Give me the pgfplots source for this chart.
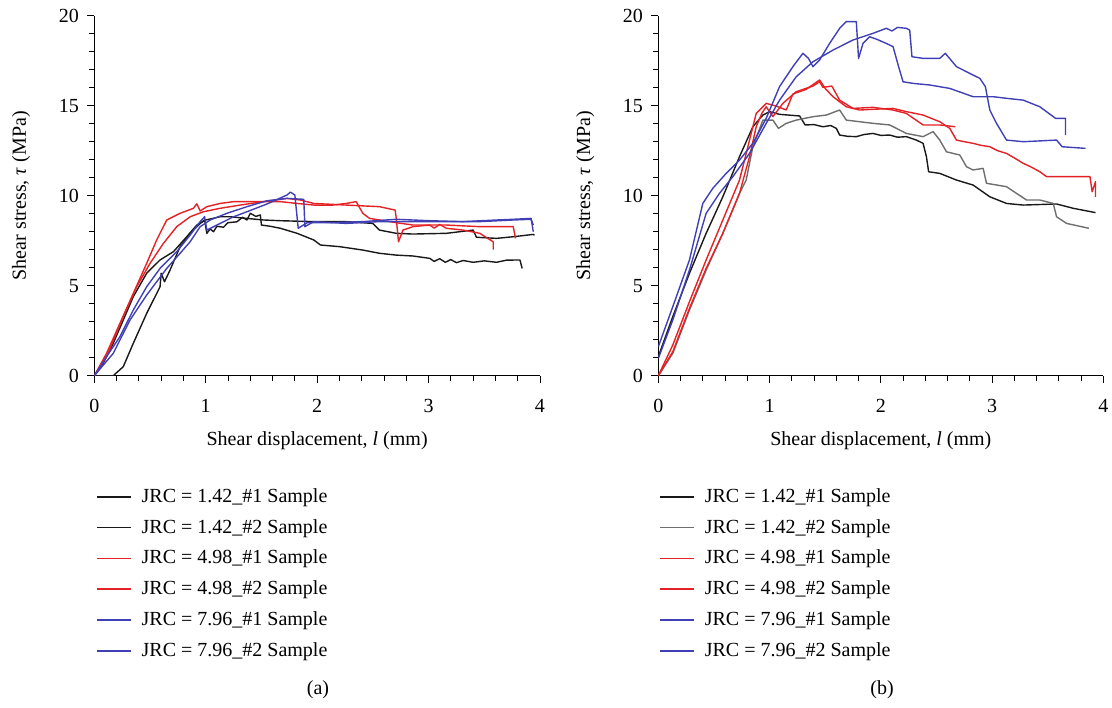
\documentclass[border=0pt]{standalone}
\usepackage{fontspec}
\setmainfont{Liberation Serif}
\usepackage{pgfplots}
\pgfplotsset{compat=1.18}
\definecolor{cblack}{RGB}{25,25,25}
\definecolor{cgray}{RGB}{110,110,110}
\definecolor{cred}{RGB}{228,34,38}
\definecolor{cblue}{RGB}{64,64,182}
\newcommand{\fs}{\fontsize{20}{24}\selectfont}
\pgfplotsset{
 panel/.style={
  scale only axis, width=445.7pt, height=360pt,
  xmin=0, xmax=4, ymin=0, ymax=20,
  axis x line*=bottom, axis y line*=left,
  axis line style={line width=0.9pt, -},
  xtick={0,1,2,3,4}, ytick={0,5,10,15,20},
  minor x tick num=4, minor y tick num=4,
  tick align=outside,
  major tick length=7pt, minor tick length=5pt,
  every tick/.style={line width=0.9pt, black},
  tick label style={font=\fs},
  xticklabel style={yshift=-13pt},
  yticklabel style={xshift=-5pt},
  /pgf/number format/assume math mode=true,
  xlabel={Shear displacement, \textit{l} (mm)},
  ylabel={Shear stress, \textit{τ} (MPa)},
  every axis x label/.style={at={([yshift=-69.3pt]axis description cs:0.5,0)}, anchor=base, font=\fs},
  every axis y label/.style={at={([xshift=-68.3pt]axis description cs:0,0.5)}, rotate=90, anchor=base, font=\fs},
  legend cell align=left,
  legend style={anchor=north west, draw=none, fill=none, inner sep=0pt, outer sep=0pt,
    column sep=10pt, row sep=11.8pt, font=\fs, nodes={inner sep=0pt, text height=14pt, text depth=5pt}},
  legend image code/.code={\draw[#1, line width=1.6pt] (0pt,1pt) -- (34pt,1pt);},
  every axis plot/.append style={line width=1.4pt, line join=round},
 }
}
\begin{document}
\begin{tikzpicture}
\path[use as bounding box] (0pt,-708pt) rectangle (1112pt,0pt);
% ---------------- (a)
\begin{axis}[panel, at={(94.3pt,-375.7pt)}, anchor=south west,
  legend style={at={(axis description cs:0.004,-0.313)}}]
\addplot[cblack] coordinates {(0,0) (0.17,0) (0.26,0.5) (0.35,1.8) (0.47,3.46) (0.59,4.94) (0.60,5.69) (0.63,5.22) (0.68,5.87) (0.77,7.17) (0.86,7.91) (0.95,8.46) (0.99,8.65) (1.01,7.91) (1.04,8.15) (1.07,8.0) (1.10,8.3) (1.16,8.25) (1.20,8.5) (1.28,8.55) (1.33,8.8) (1.37,8.65) (1.40,9.02) (1.45,8.85) (1.49,8.93) (1.50,8.37) (1.58,8.3) (1.67,8.19) (1.82,7.91) (1.97,7.54) (2.03,7.26) (2.20,7.17) (2.41,6.98) (2.56,6.80) (2.71,6.70) (2.86,6.65) (3.01,6.52) (3.05,6.35) (3.10,6.5) (3.15,6.3) (3.20,6.45) (3.25,6.28) (3.31,6.4) (3.40,6.3) (3.50,6.38) (3.61,6.3) (3.70,6.42) (3.82,6.43) (3.84,5.96)};
\addlegendentry{JRC = 1.42\_\#1 Sample}
\addplot[cblack] coordinates {(0,0) (0.08,0.69) (0.17,1.80) (0.26,3.09) (0.35,4.39) (0.47,5.69) (0.59,6.43) (0.71,6.89) (0.83,7.72) (0.92,8.37) (1.0,8.65) (1.13,8.83) (1.22,8.83) (1.35,8.75) (1.52,8.65) (1.67,8.61) (1.97,8.56) (2.26,8.56) (2.50,8.46) (2.56,8.09) (2.71,7.91) (2.86,7.87) (3.16,7.91) (3.40,8.09) (3.43,7.69) (3.61,7.63) (3.76,7.72) (3.94,7.85) (3.95,7.8)};
\addlegendentry{JRC = 1.42\_\#2 Sample}
\addplot[cred] coordinates {(0,0) (0.11,1.24) (0.23,2.91) (0.35,4.57) (0.47,6.24) (0.56,7.54) (0.65,8.65) (0.77,9.02) (0.89,9.30) (0.92,9.55) (0.95,9.15) (1.01,9.39) (1.13,9.57) (1.25,9.67) (1.43,9.67) (1.67,9.67) (1.82,9.57) (1.97,9.48) (2.14,9.48) (2.26,9.57) (2.35,9.67) (2.41,9.02) (2.47,8.74) (2.56,8.65) (2.71,8.50) (2.86,8.37) (3.16,8.37) (3.46,8.28) (3.76,8.28) (3.78,7.63)};
\addlegendentry{JRC = 4.98\_\#1 Sample}
\addplot[cred] coordinates {(0,0) (0.11,1.06) (0.26,3.28) (0.38,4.94) (0.50,6.24) (0.62,7.35) (0.74,8.28) (0.86,8.83) (0.98,9.11) (1.13,9.30) (1.31,9.48) (1.52,9.67) (1.73,9.85) (1.85,9.76) (1.97,9.57) (2.26,9.48) (2.56,9.39) (2.70,9.20) (2.71,8.74) (2.73,7.44) (2.77,8.09) (2.86,8.28) (3.01,8.37) (3.05,8.2) (3.10,8.4) (3.16,8.19) (3.31,8.09) (3.46,7.91) (3.58,7.44) (3.58,7.0)};
\addlegendentry{JRC = 4.98\_\#2 Sample}
\addplot[cblue] coordinates {(0,0) (0.11,1.06) (0.23,2.17) (0.35,3.65) (0.47,4.94) (0.59,5.96) (0.74,6.89) (0.86,7.81) (0.95,8.56) (0.99,8.83) (1.01,8.09) (1.13,8.46) (1.25,8.83) (1.37,9.11) (1.55,9.54) (1.73,10.04) (1.76,10.20) (1.80,10.04) (1.83,8.19) (1.91,8.50) (2.11,8.50) (2.41,8.56) (2.71,8.69) (3.01,8.61) (3.31,8.56) (3.61,8.65) (3.76,8.69) (3.92,8.74) (3.94,8.0)};
\addlegendentry{JRC = 7.96\_\#1 Sample}
\addplot[cblue] coordinates {(0,0) (0.17,1.24) (0.32,3.09) (0.47,4.48) (0.65,5.96) (0.77,6.80) (0.86,7.44) (0.95,8.28) (1.04,8.65) (1.19,9.02) (1.37,9.39) (1.55,9.72) (1.73,9.85) (1.88,9.80) (1.89,8.28) (1.97,8.56) (2.26,8.46) (2.56,8.56) (2.74,8.56) (3.01,8.56) (3.46,8.56) (3.76,8.65) (3.92,8.69) (3.94,8.37)};
\addlegendentry{JRC = 7.96\_\#2 Sample}
\end{axis}
% ---------------- (b)
\begin{axis}[panel, width=445pt, at={(658.3pt,-375.7pt)}, anchor=south west,
  legend style={at={(axis description cs:0.002,-0.313)}}]
\addplot[cblack] coordinates {(0,1.06) (0.13,3.28) (0.28,5.69) (0.43,7.91) (0.58,9.94) (0.73,12.17) (0.85,13.83) (0.94,14.48) (1.00,14.67) (1.09,14.52) (1.27,14.43) (1.32,13.93) (1.40,13.95) (1.48,13.83) (1.55,13.9) (1.60,13.74) (1.63,13.37) (1.70,13.3) (1.78,13.28) (1.85,13.4) (1.93,13.46) (2.00,13.35) (2.08,13.37) (2.15,13.25) (2.23,13.28) (2.32,13.09) (2.38,12.91) (2.41,12.17) (2.43,11.33) (2.53,11.24) (2.68,10.87) (2.83,10.59) (2.98,9.94) (3.13,9.57) (3.28,9.48) (3.58,9.54) (3.73,9.30) (3.93,9.06)};
\addlegendentry{JRC = 1.42\_\#1 Sample}
\addplot[cgray] coordinates {(0,0) (0.13,1.24) (0.28,3.65) (0.43,5.87) (0.58,7.91) (0.73,10.13) (0.79,10.87) (0.85,12.72) (0.94,14.20) (1.03,14.20) (1.08,13.74) (1.15,14.02) (1.24,14.20) (1.39,14.39) (1.51,14.48) (1.63,14.76) (1.69,14.20) (1.93,14.02) (2.08,13.93) (2.23,13.46) (2.38,13.28) (2.47,13.56) (2.53,13.09) (2.59,12.44) (2.71,12.26) (2.77,11.61) (2.83,11.43) (2.92,11.52) (2.95,10.69) (3.13,10.50) (3.22,10.13) (3.31,9.76) (3.43,9.76) (3.55,9.57) (3.58,8.83) (3.67,8.46) (3.87,8.19)};
\addlegendentry{JRC = 1.42\_\#2 Sample}
\addplot[cred] coordinates {(0,0) (0.13,1.70) (0.28,4.11) (0.43,6.43) (0.58,8.65) (0.73,10.87) (0.82,13.09) (0.88,14.57) (0.97,15.13) (1.06,14.98) (1.15,14.76) (1.21,15.65) (1.33,15.91) (1.45,16.43) (1.50,15.96) (1.57,15.50) (1.69,14.94) (1.81,14.76) (1.93,14.80) (2.11,14.85) (2.23,14.67) (2.38,14.48) (2.53,14.11) (2.62,13.74) (2.68,13.09) (2.75,13.0) (2.83,12.91) (2.90,12.8) (2.98,12.72) (3.05,12.5) (3.13,12.35) (3.20,12.1) (3.28,11.80) (3.35,11.6) (3.43,11.33) (3.49,11.06) (3.88,11.06) (3.90,10.22) (3.93,10.78) (3.93,9.94)};
\addlegendentry{JRC = 4.98\_\#1 Sample}
\addplot[cred] coordinates {(0,0) (0.13,1.33) (0.28,3.74) (0.43,5.96) (0.58,7.91) (0.73,10.13) (0.82,12.17) (0.88,13.83) (0.93,14.57) (0.97,14.94) (1.03,14.39) (1.12,15.13) (1.24,15.78) (1.39,16.09) (1.45,16.33) (1.48,16.02) (1.56,16.09) (1.63,15.31) (1.75,14.85) (1.93,14.91) (2.11,14.76) (2.23,14.57) (2.38,13.93) (2.53,13.93) (2.67,13.83)};
\addlegendentry{JRC = 4.98\_\#2 Sample}
\addplot[cblue] coordinates {(0,1.61) (0.13,3.83) (0.28,6.43) (0.40,9.57) (0.49,10.41) (0.61,11.24) (0.73,11.98) (0.85,12.91) (0.97,14.30) (1.09,16.06) (1.21,17.17) (1.30,17.91) (1.35,17.63) (1.39,17.17) (1.45,17.54) (1.54,18.46) (1.63,19.30) (1.69,19.67) (1.78,19.67) (1.80,17.63) (1.84,18.46) (1.90,18.83) (1.96,18.70) (2.05,18.46) (2.11,18.28) (2.16,17.17) (2.20,16.33) (2.29,16.24) (2.44,16.15) (2.62,15.96) (2.83,15.50) (3.01,15.50) (3.13,15.41) (3.28,15.31) (3.43,14.94) (3.57,14.30) (3.66,14.30) (3.66,13.37)};
\addlegendentry{JRC = 7.96\_\#1 Sample}
\addplot[cblue] coordinates {(0,0.96) (0.13,3.09) (0.28,5.87) (0.43,9.02) (0.55,10.13) (0.67,11.06) (0.82,12.35) (0.97,14.02) (1.09,15.31) (1.24,16.61) (1.39,17.44) (1.57,18.09) (1.75,18.65) (1.93,19.02) (2.05,19.30) (2.10,19.15) (2.15,19.35) (2.23,19.30) (2.26,19.20) (2.28,17.72) (2.38,17.63) (2.53,17.63) (2.58,17.91) (2.68,17.17) (2.83,16.70) (2.89,16.52) (2.94,16.06) (2.98,14.76) (3.04,14.02) (3.13,13.09) (3.28,13.00) (3.58,13.09) (3.63,12.72) (3.84,12.63)};
\addlegendentry{JRC = 7.96\_\#2 Sample}
\end{axis}
\node[font=\fs] at (318pt,-690pt) {(a)};
\node[font=\fs] at (882pt,-690pt) {(b)};
\end{tikzpicture}
\end{document}
